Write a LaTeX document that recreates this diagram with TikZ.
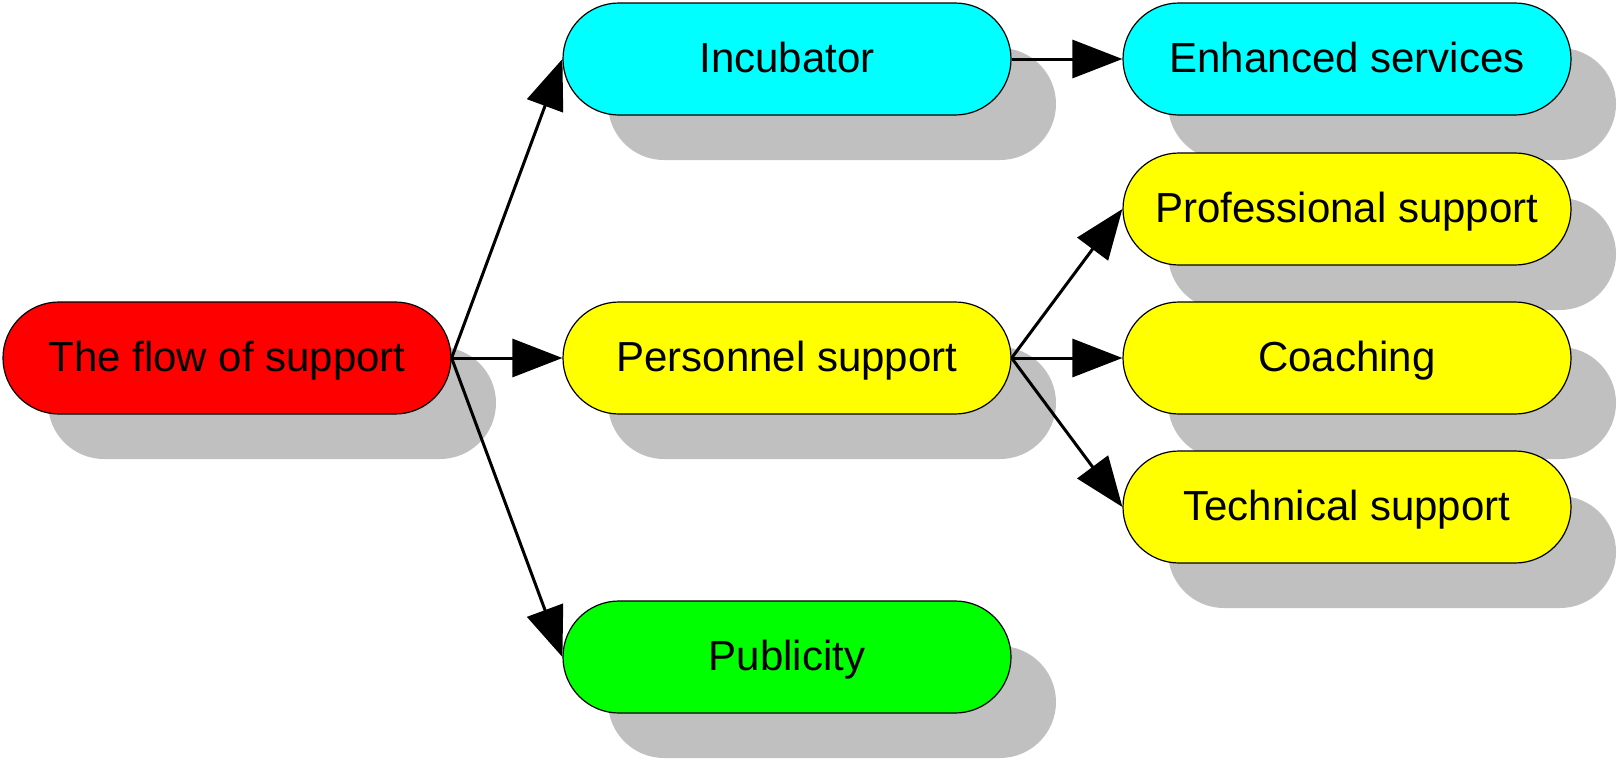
\documentclass[tikz,border=0pt]{standalone}
\usepackage{fontspec}
\setmainfont{Liberation Sans}
\usetikzlibrary{shadows,arrows.meta}
\definecolor{shadowgray}{HTML}{C0C0C0}
\definecolor{cred}{HTML}{FF0000}
\definecolor{ccyan}{HTML}{00FFFF}
\definecolor{cyellow}{HTML}{FFFF00}
\definecolor{cgreen}{HTML}{00FF00}
\tikzset{
  pill/.style={draw=black, line width=1.2pt, rectangle, rounded corners=56pt,
    minimum width=448pt, minimum height=112pt, inner sep=0pt,
    text height=36pt, text depth=9.4pt,
    font=\fontsize{42}{50}\selectfont, text=black,
    drop shadow={shadow xshift=45pt, shadow yshift=-45pt, fill=shadowgray, opacity=1, draw=none}},
  conn/.style={draw=black, line width=3pt, -{Triangle[length=50pt,width=38pt]}}
}
\begin{document}
\begin{tikzpicture}[x=1pt,y=-1pt]
\useasboundingbox (0,0) rectangle (1617,761);
\node[pill, fill=cred] (root) at (227,358) {The flow of support};
\node[pill, fill=ccyan] (inc) at (787,59) {Incubator};
\node[pill, fill=cyellow] (pers) at (787,358) {Personnel support};
\node[pill, fill=cgreen] (pub) at (787,657) {Publicity};
\node[pill, fill=ccyan] (enh) at (1347,59) {Enhanced services};
\node[pill, fill=cyellow] (prof) at (1347,209) {Professional support};
\node[pill, fill=cyellow] (coach) at (1347,358) {Coaching};
\node[pill, fill=cyellow] (tech) at (1347,507) {Technical support};
\draw[conn] (root.east) -- (inc.west);
\draw[conn] (root.east) -- (pers.west);
\draw[conn] (root.east) -- (pub.west);
\draw[conn] (inc.east) -- (enh.west);
\draw[conn] (pers.east) -- (prof.west);
\draw[conn] (pers.east) -- (coach.west);
\draw[conn] (pers.east) -- (tech.west);
\end{tikzpicture}
\end{document}
